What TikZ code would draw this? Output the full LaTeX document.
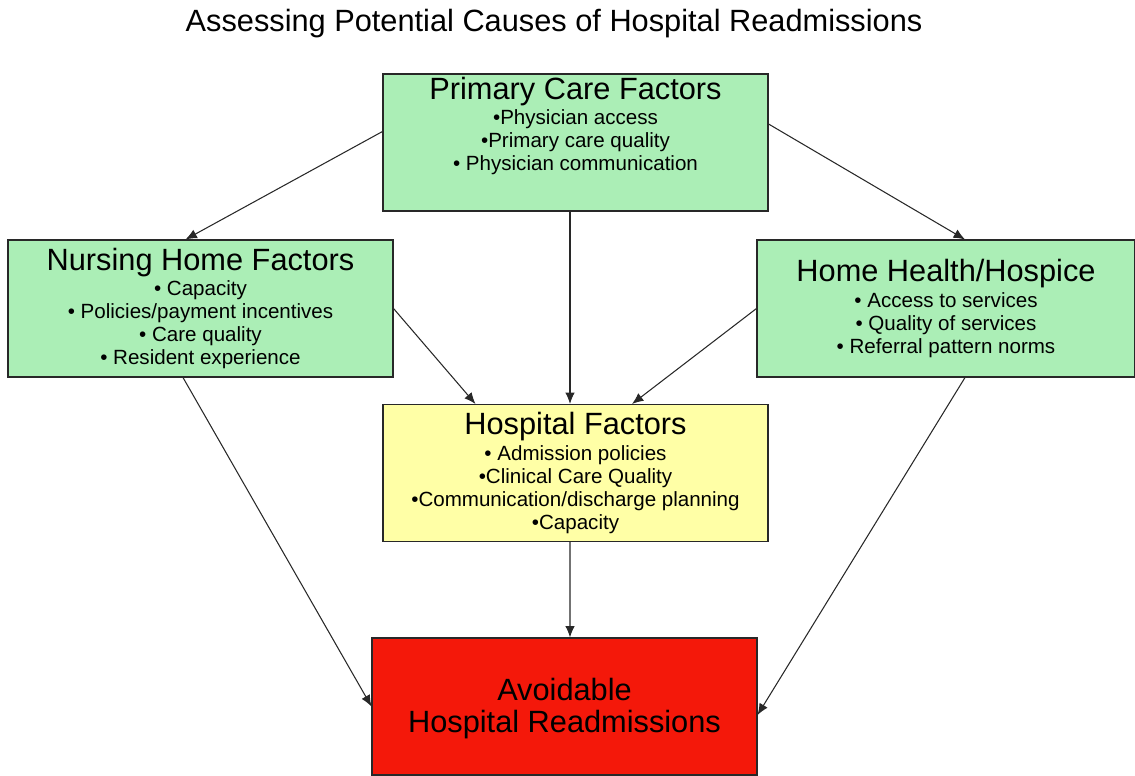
\documentclass[tikz,border=0pt]{standalone}
\usepackage{fontspec}
\setmainfont{Liberation Sans}
\usetikzlibrary{arrows.meta}
\definecolor{mintgreen}{RGB}{171,238,182}
\definecolor{paleyellow}{RGB}{255,255,166}
\definecolor{alarmred}{RGB}{244,24,10}
\definecolor{edgegray}{RGB}{40,40,40}
\newcommand{\headsize}{\fontsize{17.5}{21}\selectfont}
\newcommand{\itemsize}{\fontsize{11.7}{13.1}\selectfont}

\begin{document}
\begin{tikzpicture}[
        factor/.style={draw=edgegray, line width=0.6pt, minimum width=7.7cm, minimum height=2.74cm, align=center, inner sep=0pt, font=\itemsize},
        link/.style={draw=edgegray, line width=0.6pt, -{Latex[length=6.5pt,width=5.4pt]}}
    ]
        \useasboundingbox (0,0) rectangle (22.7,-15.5);
        
        \node (title) at (11.08,-0.48) {\headsize Assessing Potential Causes of Hospital Readmissions};
        
        \node[factor, fill=mintgreen, text depth=0.75cm] (pc) at (11.51,-2.85) {{\headsize Primary Care Factors}\\[1.3pt]\textbullet Physician access\\\textbullet Primary care quality\\\textbullet{} Physician communication};
        \node[factor, fill=mintgreen] (nh) at (4.01,-6.17) {{\headsize Nursing Home Factors}\\[1.3pt]\textbullet{} Capacity\\\textbullet{} Policies/payment incentives\\\textbullet{} Care quality\\\textbullet{} Resident experience};
        \node[factor, fill=mintgreen, minimum width=7.56cm] (hh) at (18.92,-6.17) {{\headsize Home Health/Hospice}\\[1.3pt]\textbullet{} Access to services\\\textbullet{} Quality of services\\\textbullet{} Referral pattern norms};
        \node[factor, fill=paleyellow] (hf) at (11.51,-9.46) {{\headsize Hospital Factors}\\[1.3pt]\textbullet{} Admission policies\\\textbullet Clinical Care Quality\\\textbullet Communication/discharge planning\\\textbullet Capacity};
        \node[factor, fill=alarmred, font=\headsize, text depth=0.05cm] (ar) at (11.29,-14.13) {Avoidable\\[-2.7pt]Hospital Readmissions};
        
        \draw[link] ([yshift=0.22cm]pc.west) -- ([xshift=-0.3cm]nh.north);
        \draw[link] ([yshift=0.37cm]pc.east) -- ([xshift=0.38cm]hh.north);
        \draw[link] ([xshift=-0.11cm]pc.south) -- ([xshift=-0.11cm]hf.north);
        \draw[link] (nh.east) -- ([xshift=-2cm]hf.north);
        \draw[link] (hh.west) -- ([xshift=1.13cm]hf.north);
        \draw[link] ([xshift=-0.11cm]hf.south) -- ([xshift=0.11cm]ar.north);
        \draw[link] ([xshift=-0.35cm]nh.south) -- (ar.west);
        \draw[link] ([xshift=0.38cm]hh.south) -- ([yshift=-0.17cm]ar.east);
        
\end{tikzpicture}
\end{document}
